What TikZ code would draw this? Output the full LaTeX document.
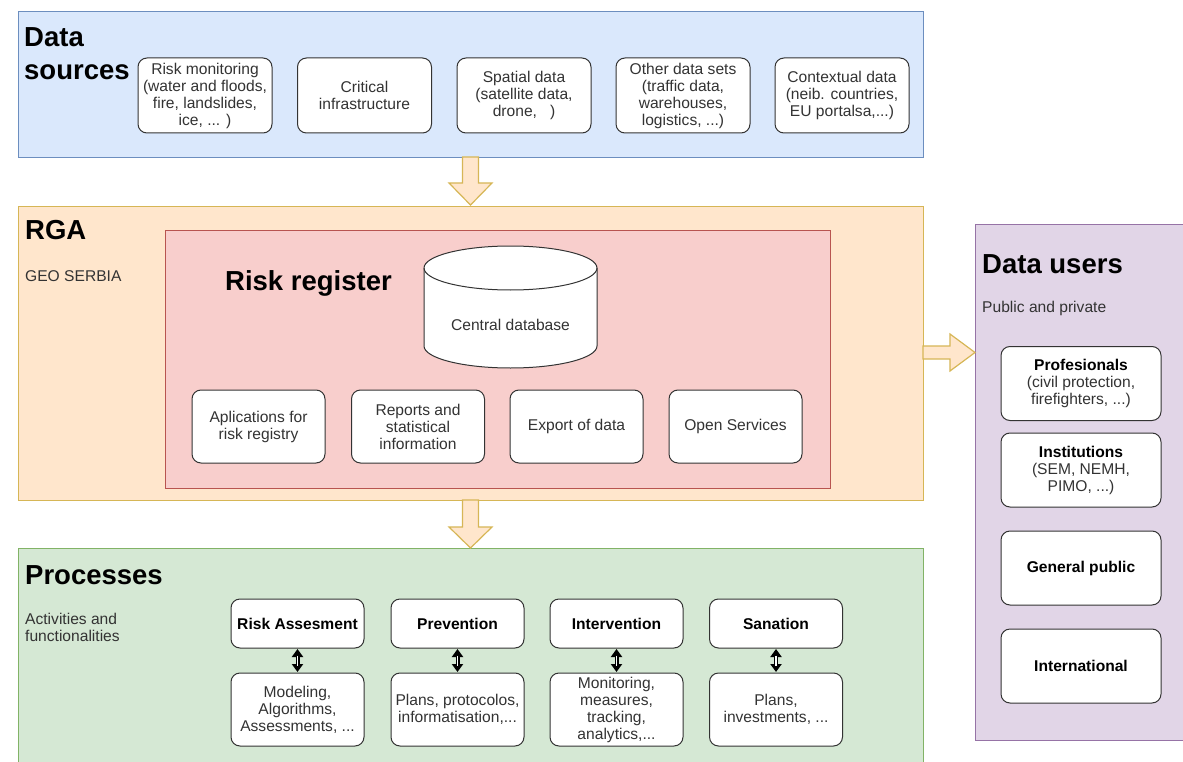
\documentclass[tikz,border=0pt]{standalone}
\usepackage{fontspec}
\setmainfont{Liberation Sans}
\usetikzlibrary{arrows.meta}
\definecolor{dsfill}{HTML}{DAE8FC}\definecolor{dsline}{HTML}{6C8EBF}
\definecolor{rgafill}{HTML}{FFE6CC}\definecolor{rgaline}{HTML}{D6B656}
\definecolor{rrfill}{HTML}{F8CECC}\definecolor{rrline}{HTML}{B85450}
\definecolor{prfill}{HTML}{D5E8D4}\definecolor{prline}{HTML}{82B366}
\definecolor{dufill}{HTML}{E1D5E7}\definecolor{duline}{HTML}{9673A6}
\definecolor{txt}{HTML}{333333}
\newcommand{\smallfs}{\fontsize{15.6}{17}\selectfont}
\newcommand{\bigfs}{\fontsize{27.5}{33}\selectfont\bfseries}
\tikzset{
  panel/.style={rectangle, line width=1.1pt, anchor=north west, inner sep=0pt},
  rbox/.style={rectangle, draw=txt, fill=white, rounded corners=9pt, line width=1pt,
    align=center, inner sep=1pt, font=\smallfs, text=txt},
  dsbox/.style={rbox, minimum width=134pt, minimum height=75pt},
  rrbox/.style={rbox, minimum width=133pt, minimum height=73pt},
  ptop/.style={rbox, minimum width=133pt, minimum height=49pt, font=\smallfs\bfseries, text=black},
  pbot/.style={rbox, minimum width=133pt, minimum height=73pt},
  dubox/.style={rbox, minimum width=160pt, minimum height=74pt},
  heading/.style={font=\bigfs, anchor=base west, inner sep=0pt, text=black},
  sub/.style={font=\smallfs, anchor=base west, inner sep=0pt, text=txt, align=left},
  barrow/.style={draw=rgaline, fill=rgafill, line width=1.2pt, line join=miter},
  dblout/.style={{Triangle[length=8pt,width=11pt]}-{Triangle[length=8pt,width=11pt]}, line width=4pt, black, shorten <=0.5pt, shorten >=0.5pt},
  dblin/.style={line width=1.4pt, white, shorten <=7pt, shorten >=7pt}
}
\begin{document}
\begin{tikzpicture}[x=1pt,y=-1pt]
\useasboundingbox (0,0) rectangle (1183,762);
% panels
\node[panel, fill=dsfill, draw=dsline, minimum width=905pt, minimum height=146pt] (ds) at (18,11) {};
\node[panel, fill=rgafill, draw=rgaline, minimum width=905pt, minimum height=294pt] (rga) at (18,206) {};
\node[panel, fill=rrfill, draw=rrline, minimum width=665pt, minimum height=258pt] (rr) at (165,230) {};
\node[panel, fill=prfill, draw=prline, minimum width=905pt, minimum height=230pt] (pr) at (18,548) {};
\node[panel, fill=dufill, draw=duline, minimum width=208pt, minimum height=516pt] (du) at (975,224) {};

% headings
\node[font=\bigfs, anchor=north west, inner sep=0pt, align=left] (dsh) at (24,27) {Data\\sources};
\node[heading] (rgah) at (25,240) {RGA};
\node[sub] (geo) at (25,281) {GEO SERBIA};
\node[heading] (rrh) at (225,290) {Risk register};
\node[heading] (prh) at (25,584) {Processes};
\node[font=\smallfs, anchor=north west, inner sep=0pt, align=left, text=txt] (act) at (25,613) {Activities and\\functionalities};
\node[heading] (duh) at (982,273) {Data users};
\node[sub] (pub) at (982,312) {Public and private};

% data sources boxes
\node[dsbox] (s1) at (205,95.5) {Risk monitoring\\(water and floods,\\fire, landslides,\\ice, ... )};
\node[dsbox] (s2) at (364.5,95.5) {Critical\\infrastructure};
\node[dsbox] (s3) at (524,95.5) {Spatial data\\(satellite data,\\drone, \ \ )};
\node[dsbox] (s4) at (683,95.5) {Other data sets\\(traffic data,\\warehouses,\\logistics, ...)};
\node[dsbox] (s5) at (842,95.5) {Contextual data\\(neib. countries,\\EU portalsa,...)};

% cylinder
\draw[draw=txt, fill=white, line width=1pt] (424,268) -- (424,346)
  arc[start angle=180, end angle=360, x radius=86.5pt, y radius=22pt] -- (597,268)
  arc[start angle=0, end angle=180, x radius=86.5pt, y radius=22pt] -- cycle;
\draw[draw=txt, line width=1pt] (424,268) arc[start angle=180, end angle=360, x radius=86.5pt, y radius=22pt];
\node[font=\smallfs, text=txt] (db) at (510.5,325) {Central database};

% risk register boxes
\node[rrbox] (r1) at (258.5,426.5) {Aplications for\\risk registry};
\node[rrbox] (r2) at (418,426.5) {Reports and\\statistical\\information};
\node[rrbox] (r3) at (576.5,426.5) {Export of data};
\node[rrbox] (r4) at (735.5,426.5) {Open Services};

% processes
\node[ptop] (p1) at (297.5,623.5) {Risk Assesment};
\node[ptop] (p2) at (457.5,623.5) {Prevention};
\node[ptop] (p3) at (616.5,623.5) {Intervention};
\node[ptop] (p4) at (776,623.5) {Sanation};
\node[pbot] (q1) at (297.5,709.5) {Modeling,\\Algorithms,\\Assessments, ...};
\node[pbot] (q2) at (457.5,709.5) {Plans, protocolos,\\informatisation,...};
\node[pbot] (q3) at (616.5,709.5) {Monitoring,\\measures,\\tracking,\\analytics,...};
\node[pbot] (q4) at (776,709.5) {Plans,\\investments, ...};
\foreach \i in {1,2,3,4} {
  \draw[dblout] (p\i.south) -- (q\i.north);
  \draw[dblin] (p\i.south) -- (q\i.north);
}

% data users
\node[dubox] (u1) at (1081,383.5) {\textbf{\color{black}Profesionals}\\(civil protection,\\firefighters, ...)};
\node[dubox] (u2) at (1081,470) {\textbf{\color{black}Institutions}\\(SEM, NEMH,\\PIMO, ...)};
\node[dubox, font=\smallfs\bfseries, text=black] (u3) at (1081,568) {General public};
\node[dubox, font=\smallfs\bfseries, text=black] (u4) at (1081,666) {International};

% block arrows
\draw[barrow] (462.5,157) -- (462.5,183) -- (449,183) -- (470.5,205) -- (492,183) -- (478.5,183) -- (478.5,157) -- cycle;
\draw[barrow] (462.5,500) -- (462.5,527) -- (449,527) -- (470.5,548) -- (492,527) -- (478.5,527) -- (478.5,500) -- cycle;
\draw[barrow] (923,346) -- (950,346) -- (950,334) -- (975,352.5) -- (950,371) -- (950,359) -- (923,359) -- cycle;
\end{tikzpicture}
\end{document}
